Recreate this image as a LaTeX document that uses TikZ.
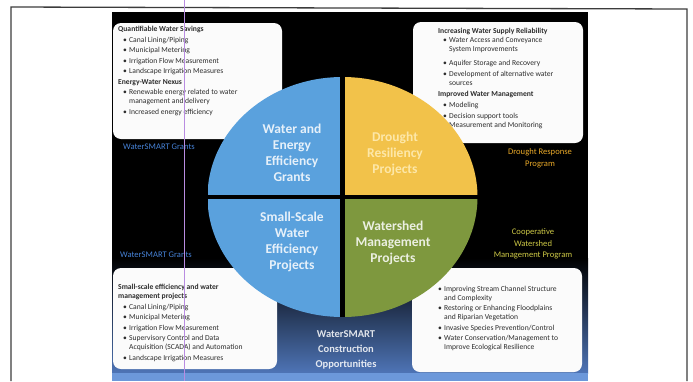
\documentclass[tikz,border=0pt]{standalone}
\usepackage{fontspec}
\setmainfont{Carlito}
\usetikzlibrary{shapes.geometric}
\definecolor{wblue}{RGB}{90,161,221}
\definecolor{wyellow}{RGB}{242,194,74}
\definecolor{wgreen}{RGB}{126,152,62}
\definecolor{framec}{RGB}{60,60,60}
\definecolor{navy}{RGB}{32,48,92}
\definecolor{lowblue}{RGB}{78,116,182}
\definecolor{stripblue}{RGB}{108,152,218}
\definecolor{boxtext}{RGB}{45,45,45}
\definecolor{grantblue}{RGB}{70,130,215}
\definecolor{droughtc}{RGB}{232,168,40}
\definecolor{coopc}{RGB}{205,200,70}
\definecolor{paleyellow}{RGB}{255,238,185}
\definecolor{artline}{RGB}{185,140,225}
\newcommand\bul{\hspace*{5pt}\makebox[6pt][l]{\textbullet}}
\newcommand\cnt{\hspace*{11pt}}
\begin{document}
\begin{tikzpicture}[x=1pt,y=-1pt,
  infobox/.style={fill=white!97!gray, rounded corners=8pt},
  boxtxt/.style={anchor=north west, inner sep=0pt, align=left, text=boxtext,
    font=\fontsize{7.6}{9}\selectfont},
  quadtxt/.style={align=center, inner sep=0pt, text=white, text opacity=0.85,
    font=\fontsize{13.5}{16}\selectfont\bfseries},
  progtxt/.style={align=center, inner sep=0pt, font=\fontsize{8.6}{11.5}\selectfont}]
\useasboundingbox (0,0) rectangle (693,381);
\fill[white] (0,0) rectangle (693,381);
% outer frame
\coordinate (f1) at (11,381);
\coordinate (f2) at (11,7);
\coordinate (f3) at (687,9);
\coordinate (f4) at (687,381);
\draw[framec, line width=1.3pt] (f1) -- (f2) -- (f3) -- (f4);
% dark panel
\fill[black] (112,12) rectangle (588,381);
\shade[top color=black, middle color=navy, bottom color=lowblue] (112,258) rectangle (588,373);
\fill[stripblue] (112,373) rectangle (588,381);
% info boxes
\node[infobox, minimum width=169pt, minimum height=116pt, inner sep=0pt] (tlbox) at (197.5,81) {};
\node[infobox, minimum width=170pt, minimum height=121pt, inner sep=0pt] (trbox) at (498,82.5) {};
\node[infobox, minimum width=164pt, minimum height=101pt, inner sep=0pt] (blbox) at (195,318.5) {};
\node[infobox, minimum width=170pt, minimum height=104pt, inner sep=0pt] (brbox) at (497,320) {};
% box texts
\node[boxtxt] (tltxt) at (118,26) {\textbf{Quantifiable Water Savings}\\[1.5pt]
\bul Canal Lining/Piping\\[1.5pt]
\bul Municipal Metering\\[1.5pt]
\bul Irrigation Flow Measurement\\[1.5pt]
\bul Landscape Irrigation Measures\\[1.5pt]
\textbf{Energy-Water Nexus}\\[1.5pt]
\bul Renewable energy related to water\\
\cnt management and delivery\\[1.5pt]
\bul Increased energy efficiency};
\node[boxtxt] (trtxt) at (438,28) {\textbf{Increasing Water Supply Reliability}\\[0pt]
\bul Water Access and Conveyance\\
\cnt System Improvements\\[5pt]
\bul Aquifer Storage and Recovery\\[1.5pt]
\bul Development of alternative water\\
\cnt sources\\[2pt]
\textbf{Improved Water Management}\\[2pt]
\bul Modeling\\[2pt]
\bul Decision support tools\\
\cnt Measurement and Monitoring};
\node[boxtxt] (bltxt) at (118,284) {\textbf{Small-scale efficiency and water}\\
\textbf{management projects}\\[1.5pt]
\bul Canal Lining/Piping\\[1.5pt]
\bul Municipal Metering\\[1.5pt]
\bul Irrigation Flow Measurement\\[1.5pt]
\bul Supervisory Control and Data\\
\cnt Acquisition (SCADA) and Automation\\[1.5pt]
\bul Landscape Irrigation Measures};
\node[boxtxt] (brtxt) at (433,286) {\bul Improving Stream Channel Structure\\
\cnt and Complexity\\[1.5pt]
\bul Restoring or Enhancing Floodplains\\
\cnt and Riparian Vegetation\\[1.5pt]
\bul Invasive Species Prevention/Control\\[1.5pt]
\bul Water Conservation/Management to\\
\cnt Improve Ecological Resilience};
% program labels
\node[progtxt, text=grantblue] (grant1) at (159,147) {WaterSMART Grants};
\node[progtxt, text=grantblue] (grant2) at (156,255) {WaterSMART Grants};
\node[progtxt, text=droughtc] (drought) at (540,158) {Drought Response\\Program};
\node[progtxt, text=coopc] (coop) at (533,244) {Cooperative\\Watershed\\Management Program};
% central disk
\node[ellipse, minimum width=270pt, minimum height=240pt, inner sep=0pt,
  path picture={
    \fill[wblue] (path picture bounding box.north west) rectangle (path picture bounding box.center);
    \fill[wyellow] (path picture bounding box.north east) rectangle (path picture bounding box.center);
    \fill[wblue] (path picture bounding box.south west) rectangle (path picture bounding box.center);
    \fill[wgreen] (path picture bounding box.south east) rectangle (path picture bounding box.center);
  }] (disk) at (342.5,197) {};
\draw[black, line width=4.5pt] (disk.north) -- (disk.south);
\draw[black, line width=4.5pt] (disk.west) -- (disk.east);
% quadrant labels
\node[quadtxt] (q1) at (292,153) {Water and\\Energy\\Efficiency\\Grants};
\node[quadtxt, text=paleyellow] (q2) at (395,153.5) {Drought\\Resiliency\\Projects};
\node[quadtxt] (q3) at (292,242) {Small-Scale\\Water\\Efficiency\\Projects};
\node[quadtxt] (q4) at (393,242.5) {Watershed\\Management\\Projects};
% bottom label
\node[align=center, inner sep=0pt, text=white, text opacity=0.85,
  font=\fontsize{10.5}{15}\selectfont\bfseries] (constr) at (346,350) {WaterSMART\\Construction\\Opportunities};
% artefact line
\coordinate (a1) at (184,0);
\coordinate (a2) at (184,381);
\draw[artline, line width=0.8pt] (a1) -- (a2);
\end{tikzpicture}
\end{document}
